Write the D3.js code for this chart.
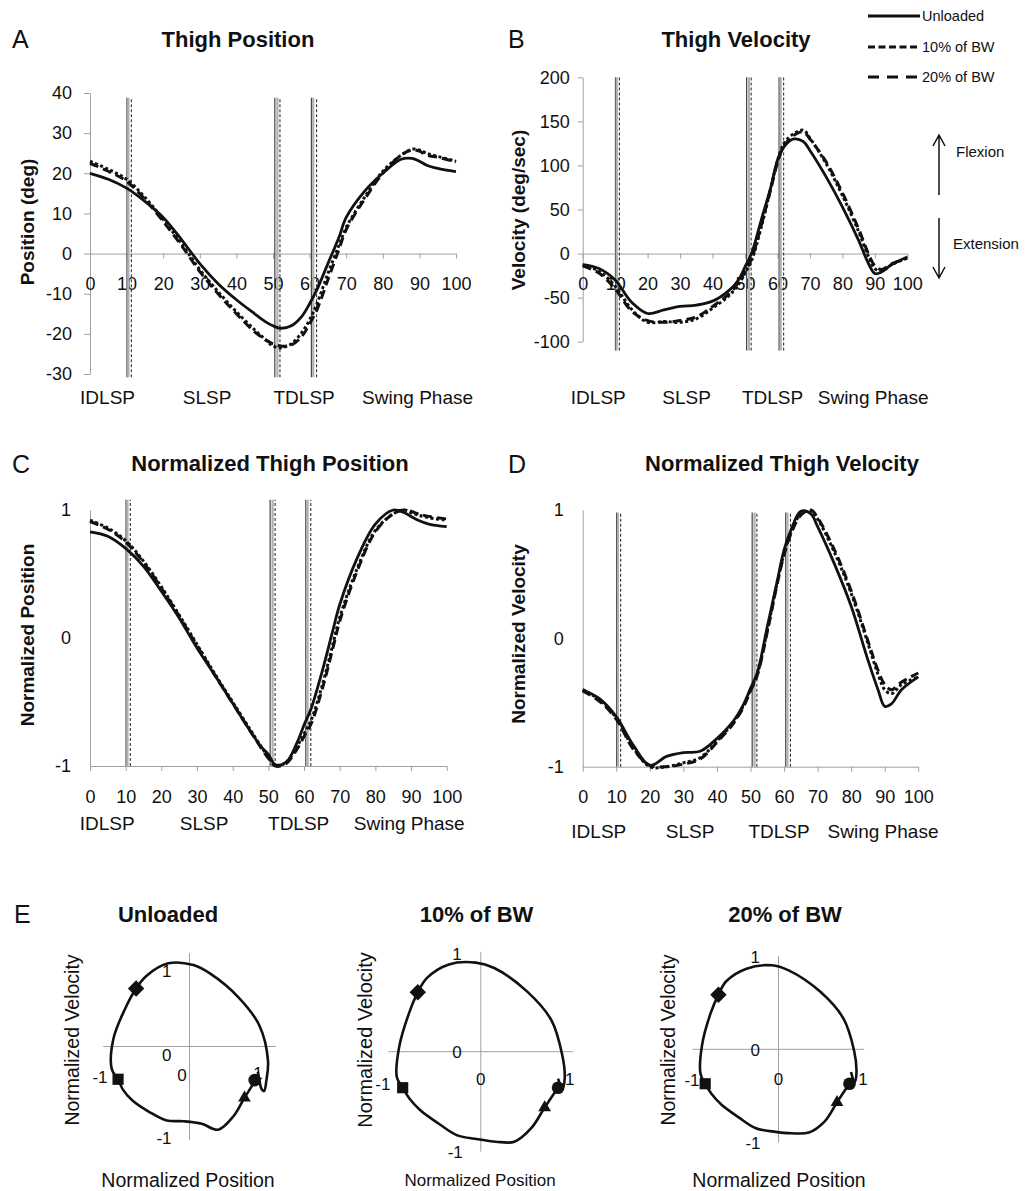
<!DOCTYPE html>
<html><head><meta charset="utf-8">
<script src="https://cdn.jsdelivr.net/npm/d3@7"></script>
<style>body{margin:0;background:#fff} svg{display:block} text{font-family:"Liberation Sans",Arial,sans-serif}</style>
</head><body><svg id="c" width="1032" height="1191"></svg>
<script>
// ---------------- DATA ----------------
const t = [0,5,10,15,20,25,30,35,40,45,48,50,52,55,58,60,62,65,68,70,75,80,85,88,90,92,95,100];
const seriesNames = ["Unloaded","10% of BW","20% of BW"];

// A: thigh position (deg)
const posUnl = [20,18.5,16.3,13,9,3.5,-2.5,-7.5,-11.5,-15,-17,-18,-18.6,-18,-15.5,-12.5,-9,-2.5,4,9,15.5,20,23.5,23.7,23,22,21.2,20.4];
const pos10  = [23,21,18.5,14,8.5,2.5,-4,-9.5,-14.5,-19,-21.5,-23,-23.5,-22.5,-19.5,-16.5,-12.5,-5,2,6.5,14,20.5,24.5,26,25.8,25,24.2,23];
const pos20  = [22.5,20.5,18,13.5,8,2,-4.5,-10,-15,-19.5,-21.5,-22.5,-23,-22.8,-20.5,-17.5,-14,-6.5,1,6,13.5,20,24.5,25.8,25.5,24.5,24,22.8];

// B: thigh velocity (deg/sec)
const velUnl = [-12.5,-17,-30,-55,-68,-64,-60,-58.5,-54,-42,-30,-15,0,38,76,106,121,130,127,117,87,53,15,-11,-22.7,-21,-13,-4];
const vel10  = [-13,-20,-37,-63,-78,-77,-78,-74,-62,-48,-35,-22,-8,30,75,105,125,136,140,131,102,66,25,-3,-17,-20,-13,-5];
const vel20  = [-14,-22,-40,-65,-76,-78,-76,-72,-60,-46,-33,-20,-6,32,74,103,122,134,138,130,104,69,28,0,-14,-18,-12,-5];

// C: normalized position
const nposUnl = [0.83,0.795,0.70,0.56,0.365,0.156,-0.078,-0.29,-0.51,-0.73,-0.85,-0.91,-0.99,-0.97,-0.82,-0.68,-0.55,-0.27,0.05,0.26,0.63,0.89,1.0,0.98,0.95,0.92,0.89,0.87];
const npos10  = [0.92,0.86,0.76,0.60,0.40,0.18,-0.05,-0.28,-0.50,-0.72,-0.85,-0.93,-1.0,-0.97,-0.85,-0.75,-0.64,-0.38,-0.06,0.16,0.55,0.84,0.97,1.0,0.98,0.96,0.94,0.92];
const npos20  = [0.91,0.85,0.75,0.59,0.39,0.17,-0.06,-0.29,-0.51,-0.73,-0.86,-0.94,-1.0,-0.98,-0.87,-0.77,-0.67,-0.41,-0.09,0.13,0.53,0.83,0.97,1.0,0.99,0.97,0.95,0.93];

// D: normalized velocity
const nvelUnl = [-0.40,-0.47,-0.61,-0.83,-0.99,-0.92,-0.89,-0.88,-0.78,-0.64,-0.51,-0.39,-0.27,0.09,0.45,0.69,0.84,0.99,0.97,0.87,0.58,0.25,-0.17,-0.40,-0.53,-0.51,-0.40,-0.30];
const nvel10  = [-0.40,-0.48,-0.62,-0.85,-1.0,-1.0,-0.97,-0.93,-0.80,-0.65,-0.52,-0.40,-0.28,0.06,0.44,0.66,0.82,0.97,0.99,0.93,0.67,0.35,-0.04,-0.28,-0.40,-0.43,-0.36,-0.30];
const nvel20  = [-0.41,-0.49,-0.63,-0.86,-0.99,-1.0,-0.98,-0.94,-0.81,-0.66,-0.53,-0.41,-0.29,0.05,0.43,0.65,0.81,0.96,1.0,0.94,0.69,0.37,-0.02,-0.25,-0.36,-0.40,-0.34,-0.27];

// gait events (% of cycle) per condition
const eventsUnl = [10.1,50.5,60.5];
const events10  = [10.5,51.2,61.0];
const events20  = [11.3,51.9,61.9];

const phaseLabels = ["IDLSP","SLSP","TDLSP","Swing Phase"];
const phaseAt = [4.8,32,58.5,89.5];
const xTicks = [0,10,20,30,40,50,60,70,80,90,100];
const yTicksPos = [-30,-20,-10,0,10,20,30,40];
const yTicksVel = [-100,-50,0,50,100,150,200];
const yTicksNorm = [-1,0,1];
const loopTicks = [-1,0,1];
const markerTimes = [0,10,50,60];
const markerShapes = ["circle","triangle","square","diamond"];

// ---------------- DRAW ----------------
const svg = d3.select('#c');
const AX = '#a0a0a0';
const lineStyles = [
  {w:2.8, dash:null},
  {w:3, dash:'3,2.5'},
  {w:3, dash:'9,5'}
];
const evStyles = [
  {c:'#444', w:1.2, dash:null},
  {c:'#b0b0b0', w:2.2, dash:null},
  {c:'#333', w:1.1, dash:'3,2'}
];
const allEvents = [eventsUnl, events10, events20];

const panels = [
  {letter:'A', lx:12, ly:48, title:'Thigh Position', tx:238, ty:47, x0:90, x1:456, yTop:93, yBot:374, yDom:[-30,40], yTicks:yTicksPos, tickIn:6, pad:12, xAt:0, evExt:[-30.8,38.8], data:[posUnl,pos10,pos20], yTitle:'Position (deg)', ytx:27, yty:222, catY:397},
  {letter:'B', lx:508, ly:48, title:'Thigh Velocity', tx:736, ty:47, x0:582.7, x1:907.3, yTop:77.3, yBot:341.7, yDom:[-100,200], yTicks:yTicksVel, tickIn:5, pad:8, xAt:0, evExt:[-110,200], data:[velUnl,vel10,vel20], yTitle:'Velocity (deg/sec)', ytx:518, yty:210, catY:397},
  {letter:'C', lx:12, ly:473, title:'Normalized Thigh Position', tx:270, ty:471, x0:90, x1:446.7, yTop:510, yBot:766, yDom:[-1,1], yTicks:yTicksNorm, tickIn:0, pad:19, xAt:-1, evExt:[-1,1.08], data:[nposUnl,npos10,npos20], yTitle:'Normalized Position', ytx:27, yty:635, catY:823},
  {letter:'D', lx:508, ly:473, title:'Normalized Thigh Velocity', tx:782, ty:471, x0:582.7, x1:918.3, yTop:510, yBot:766.7, yDom:[-1,1], yTicks:yTicksNorm, tickIn:0, pad:19, xAt:-1, evExt:[-1,0.98], data:[nvelUnl,nvel10,nvel20], yTitle:'Normalized Velocity', ytx:518, yty:634, catY:831.7}
];

function styleAxis(sel){
  sel.select('.domain').attr('stroke',AX).attr('stroke-width',1);
  sel.selectAll('.tick line').attr('stroke',AX).attr('stroke-width',1);
  sel.selectAll('.tick text').attr('fill','#111').style('font-size','18px').style('font-family','"Liberation Sans",Arial,sans-serif');
}

panels.forEach(p => {
  const x = d3.scaleLinear().domain([0,100]).range([p.x0,p.x1]);
  const y = d3.scaleLinear().domain(p.yDom).range([p.yBot,p.yTop]);
  const g = svg.append('g');
  g.append('text').attr('x',p.lx).attr('y',p.ly).text(p.letter).style('font-size','25px').attr('fill','#111');
  g.append('text').attr('x',p.tx).attr('y',p.ty).attr('text-anchor','middle').text(p.title)
    .style('font-size','22px').style('font-weight','bold').attr('fill','#111');
  g.append('text').attr('transform',`translate(${p.ytx},${p.yty}) rotate(-90)`).attr('text-anchor','middle')
    .attr('dominant-baseline','central').text(p.yTitle).style('font-size','19px').style('font-weight','bold').attr('fill','#111');

  const ya = g.append('g').attr('transform',`translate(${p.x0},0)`)
    .call(d3.axisLeft(y).tickValues(p.yTicks).tickSizeInner(p.tickIn).tickSizeOuter(0).tickPadding(p.pad).tickFormat(d=>String(d)));
  styleAxis(ya);
  const xa = g.append('g').attr('transform',`translate(0,${y(p.xAt)})`)
    .call(d3.axisBottom(x).tickValues(xTicks).tickSizeInner(5).tickSizeOuter(0).tickPadding(19).tickFormat(d=>String(d)));
  styleAxis(xa);

  allEvents.forEach((ev,si) => {
    const s = evStyles[si];
    g.selectAll(null).data(ev).enter().append('line')
      .attr('x1',d=>x(d)).attr('x2',d=>x(d)).attr('y1',y(p.evExt[0])).attr('y2',y(p.evExt[1]))
      .attr('stroke',s.c).attr('stroke-width',s.w).attr('stroke-dasharray',s.dash);
  });

  const line = d3.line().x((d,i)=>x(t[i])).y(d=>y(d)).curve(d3.curveCatmullRom.alpha(0.5));
  [2,1,0].forEach(si => {
    const s = lineStyles[si];
    g.append('path').datum(p.data[si]).attr('d',line).attr('fill','none').attr('stroke','#111')
      .attr('stroke-width',s.w).attr('stroke-dasharray',s.dash);
  });

  g.selectAll(null).data(phaseLabels).enter().append('text')
    .attr('x',(d,i)=>x(phaseAt[i])).attr('y',p.catY).attr('text-anchor','middle').attr('dominant-baseline','central')
    .text(d=>d).style('font-size','19px').attr('fill','#111');
});

// legend
const lg = svg.append('g');
seriesNames.forEach((n,i) => {
  const yy = [16,47,77][i];
  lg.append('line').attr('x1',868).attr('x2',920).attr('y1',yy).attr('y2',yy).attr('stroke','#111')
    .attr('stroke-width',3).attr('stroke-dasharray',[null,'7,3.5','11,8'][i]);
  lg.append('text').attr('x',922).attr('y',yy).attr('dominant-baseline','central').text(n)
    .style('font-size','14.5px').attr('fill','#111');
});

// flexion / extension arrows
const ag = svg.append('g').attr('stroke','#111').attr('stroke-width',1.5).attr('fill','none');
ag.append('path').attr('d','M939,195 L939,136 M933,146 L939,135 L945,146');
ag.append('path').attr('d','M939,218 L939,277 M933,267 L939,278 L945,267');
svg.append('text').attr('x',956).attr('y',151).attr('dominant-baseline','central').text('Flexion').style('font-size','15px').attr('fill','#111');
svg.append('text').attr('x',953).attr('y',243).attr('dominant-baseline','central').text('Extension').style('font-size','15px').attr('fill','#111');

// E: phase portraits
svg.append('text').attr('x',14).attr('y',923).text('E').style('font-size','25px').attr('fill','#111');
const loops = [
  {title:seriesNames[0], cx:189.5, cy:1046.5, sx:78.5, sy:84, tx:168, nvx:72, npx:188, npSize:19.5, nvSize:19.5,
   vOff:[[-18,7.5],[-18,8.5],[-18,9]], hOff:[[-11,30.5],[-7.5,28.5],[-10,26.5]], pos:nposUnl, vel:nvelUnl},
  {title:seriesNames[1], cx:480.8, cy:1051.7, sx:84, sy:90, tx:476.5, nvx:365, npx:480, npSize:17, nvSize:20,
   vOff:[[-18,11],[-19,1],[-19,-7]], hOff:[[-14,33],[0,28],[5,28]], pos:npos10, vel:nvel10},
  {title:seriesNames[2], cx:778.5, cy:1049.3, sx:78, sy:84, tx:785, nvx:668, npx:779, npSize:19.5, nvSize:19.5,
   vOff:[[-18,10],[-18.5,1],[-18.5,-8]], hOff:[[-8.5,31],[0,30],[6.5,30]], pos:npos20, vel:nvel20}
];
const symType = {circle:d3.symbolCircle, triangle:d3.symbolTriangle, square:d3.symbolSquare, diamond:d3.symbolSquare};
const symSize = {circle:125, triangle:70, square:125, diamond:135};

loops.forEach(L => {
  const xs = d3.scaleLinear().domain([-1,1]).range([L.cx-L.sx, L.cx+L.sx]);
  const ys = d3.scaleLinear().domain([-1,1]).range([L.cy+L.sy, L.cy-L.sy]);
  const g = svg.append('g');
  g.append('text').attr('x',L.tx).attr('y',922).attr('text-anchor','middle').text(L.title)
    .style('font-size','22px').style('font-weight','bold').attr('fill','#111');
  g.append('line').attr('x1',xs(0)).attr('x2',xs(0)).attr('y1',ys(-1.11)).attr('y2',ys(1.11)).attr('stroke',AX).attr('stroke-width',1);
  g.append('line').attr('x1',xs(-1.1)).attr('x2',xs(1.1)).attr('y1',ys(0)).attr('y2',ys(0)).attr('stroke',AX).attr('stroke-width',1);
  loopTicks.forEach((v,i) => {
    g.append('text').attr('x',xs(0)+L.vOff[i][0]).attr('y',ys(v)+L.vOff[i][1]).attr('text-anchor','end')
      .attr('dominant-baseline','central').text(String(v)).style('font-size','17px').attr('fill','#111');
    g.append('text').attr('x',xs(v)+L.hOff[i][0]).attr('y',ys(0)+L.hOff[i][1]).attr('text-anchor','middle')
      .attr('dominant-baseline','central').text(String(v)).style('font-size','17px').attr('fill','#111');
  });
  g.append('text').attr('transform',`translate(${L.nvx},1040) rotate(-90)`).attr('text-anchor','middle')
    .attr('dominant-baseline','central').text('Normalized Velocity').style('font-size',L.nvSize+'px').attr('fill','#111');
  g.append('text').attr('x',L.npx).attr('y',1180).attr('text-anchor','middle').attr('dominant-baseline','central')
    .text('Normalized Position').style('font-size',L.npSize+'px').attr('fill','#111');

  const pts = t.map((_,i)=>[L.pos[i], L.vel[i]]);
  g.append('path').datum(pts).attr('d', d3.line().x(d=>xs(d[0])).y(d=>ys(d[1])).curve(d3.curveCatmullRom.alpha(0.5)))
    .attr('fill','none').attr('stroke','#111').attr('stroke-width',2.6);
  markerTimes.forEach((mt,k) => {
    const i = t.indexOf(mt);
    const sh = markerShapes[k];
    g.append('path').attr('d', d3.symbol().type(symType[sh]).size(symSize[sh])())
      .attr('transform',`translate(${xs(L.pos[i])},${ys(L.vel[i])})${sh==='diamond'?' rotate(45)':''}`)
      .attr('fill','#111');
  });
});
</script>
</body></html>
